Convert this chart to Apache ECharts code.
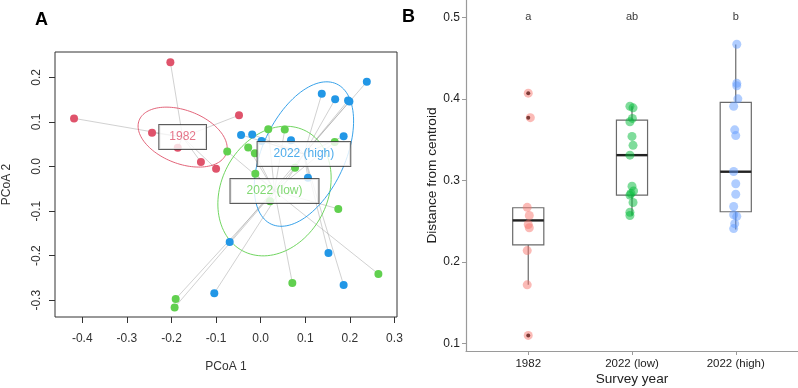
<!DOCTYPE html>
<html>
<head>
<meta charset="utf-8">
<script src="https://cdn.jsdelivr.net/npm/echarts@6/dist/echarts.min.js"></script>
<style>
html, body { margin: 0; padding: 0; background: #fff; }
#main { width: 798px; height: 388px; }
</style>
</head>
<body>
<div id="main"></div>
<script>
var groups = ['1982', '2022 (low)', '2022 (high)'];
var pcoaColors = ['#DF536B', '#61D04F', '#2297E6'];
var boxColors = ['#F8766D', '#00BA38', '#619CFF'];

// panel A: PCoA site scores for each group
var pcoa1982 = [[-0.4185, 0.108], [-0.2025, 0.234], [-0.2436, 0.076], [-0.0486, 0.115],
    [-0.186, 0.042], [-0.134, 0.010], [-0.100, -0.005]];
var pcoaLow = [[0.017, 0.0836], [0.054, 0.083], [-0.075, 0.034], [-0.028, 0.0425], [-0.013, 0.030],
    [0.166, 0.055], [0.077, -0.003], [-0.012, -0.0164], [0.021, -0.078], [0.174, -0.095],
    [0.264, -0.241], [0.071, -0.261], [-0.1906, -0.297], [-0.193, -0.316]];
var pcoaHigh = [[0.238, 0.190], [0.137, 0.163], [0.167, 0.151], [0.196, 0.148], [0.199, 0.146],
    [0.186, 0.068], [-0.044, 0.071], [-0.019, 0.072], [0.002, 0.057], [0.068, 0.059],
    [0.106, -0.025], [-0.0695, -0.169], [-0.104, -0.284], [0.152, -0.194], [0.186, -0.266]];
var centroids = [[-0.175, 0.066], [0.031, -0.055], [0.097, 0.028]];
// ellipse semi axes a, b and angle (degrees)
var ellipseAxes = [[0.1045, 0.0598, -21], [0.152, 0.119, 62], [0.1735, 0.0925, 65]];
var xTicksA = [-0.4, -0.3, -0.2, -0.1, 0, 0.1, 0.2, 0.3];
var yTicksA = [-0.3, -0.2, -0.1, 0, 0.1, 0.2];

// panel B: distance to centroid, [jittered x, distance]
var dist1982 = [[1.0, 0.407], [1.02, 0.377], [0.99, 0.267], [1.01, 0.257], [1.0, 0.246],
    [1.01, 0.242], [0.99, 0.214], [0.99, 0.172], [1.0, 0.110]];
var distLow = [[1.98, 0.391], [2.01, 0.389], [2.004, 0.376], [1.98, 0.372], [2.0, 0.354],
    [2.01, 0.343], [1.98, 0.331], [2.0, 0.293], [2.015, 0.287], [1.99, 0.284], [1.98, 0.282],
    [2.01, 0.273], [1.98, 0.261], [1.98, 0.257]];
var distHigh = [[3.01, 0.467], [3.01, 0.419], [3.01, 0.416], [3.02, 0.400], [2.98, 0.391],
    [2.99, 0.362], [3.0, 0.355], [2.98, 0.311], [3.0, 0.296], [3.0, 0.283], [2.98, 0.268],
    [2.98, 0.258], [3.01, 0.256], [2.99, 0.247], [2.98, 0.241]];
// min, q1, median, q3, max (whisker ends)
var boxStats = [[0.172, 0.221, 0.251, 0.2665, 0.2665],
    [0.257, 0.282, 0.331, 0.374, 0.391],
    [0.240, 0.2616, 0.3107, 0.3956, 0.4667]];
var outliers1982 = [0.407, 0.377, 0.110];
var letters = ['a', 'ab', 'b'];
var yTicksB = [0.1, 0.2, 0.3, 0.4, 0.5];

var labelPad = [[6, 10], [6, 16], [6, 16]];

var chart = echarts.init(document.getElementById('main'), null, {renderer: 'canvas'});

var pcoaSets = [pcoa1982, pcoaLow, pcoaHigh];
var distSets = [dist1982, distLow, distHigh];

var spiderData = [];
pcoaSets.forEach(function (pts, g) {
    pts.forEach(function (p) {
        spiderData.push([p[0], p[1], centroids[g][0], centroids[g][1], g]);
    });
});
var ellipseData = centroids.map(function (c, g) {
    return [c[0], c[1], ellipseAxes[g][0], ellipseAxes[g][1], ellipseAxes[g][2], g];
});

var series = [];

series.push({
    type: 'custom', xAxisIndex: 0, yAxisIndex: 0, z: 1, silent: true,
    data: spiderData,
    renderItem: function (params, api) {
        var p1 = api.coord([api.value(0), api.value(1)]);
        var p2 = api.coord([api.value(2), api.value(3)]);
        return {type: 'line', shape: {x1: p1[0], y1: p1[1], x2: p2[0], y2: p2[1]},
            style: {stroke: 'rgba(150,150,150,0.55)', lineWidth: 0.8}};
    }
});

series.push({
    type: 'custom', xAxisIndex: 0, yAxisIndex: 0, z: 2, silent: true,
    data: ellipseData,
    renderItem: function (params, api) {
        var cx = api.value(0), cy = api.value(1), a = api.value(2), b = api.value(3);
        var ang = api.value(4) * Math.PI / 180;
        var pts = [];
        for (var i = 0; i <= 120; i++) {
            var t = i / 120 * 2 * Math.PI;
            var ex = a * Math.cos(t), ey = b * Math.sin(t);
            pts.push(api.coord([cx + ex * Math.cos(ang) - ey * Math.sin(ang),
                cy + ex * Math.sin(ang) + ey * Math.cos(ang)]));
        }
        return {type: 'polyline', shape: {points: pts},
            style: {stroke: pcoaColors[api.value(5)], fill: null, lineWidth: 0.9}};
    }
});

pcoaSets.forEach(function (pts, g) {
    series.push({
        type: 'scatter', xAxisIndex: 0, yAxisIndex: 0, z: 3,
        symbolSize: 8, data: pts,
        itemStyle: {color: pcoaColors[g], opacity: 1}
    });
});

series.push({
    type: 'scatter', xAxisIndex: 0, yAxisIndex: 0, z: 5, symbolSize: 0,
    data: centroids.map(function (c, g) {
        return {value: c, label: {padding: labelPad[g], color: pcoaColors[g]}};
    }),
    label: {
        show: true, position: 'inside',
        formatter: function (p) { return groups[p.dataIndex]; },
        fontFamily: 'Liberation Sans', fontSize: 12,
        backgroundColor: '#fff', borderColor: '#333', borderWidth: 1
    }
});

// panel B boxes
series.push({
    type: 'custom', xAxisIndex: 1, yAxisIndex: 1, z: 2, silent: true,
    data: boxStats.map(function (s, i) { return [i + 1].concat(s); }),
    renderItem: function (params, api) {
        var x = api.value(0);
        var hw = api.size([0.3, 0])[0] / 2;
        var pMin = api.coord([x, api.value(1)]);
        var pQ1 = api.coord([x, api.value(2)]);
        var pMed = api.coord([x, api.value(3)]);
        var pQ3 = api.coord([x, api.value(4)]);
        var pMax = api.coord([x, api.value(5)]);
        var gray = '#6a6a6a';
        return {type: 'group', children: [
            {type: 'line', shape: {x1: pMin[0], y1: pMin[1], x2: pQ1[0], y2: pQ1[1]},
                style: {stroke: gray, lineWidth: 1.2}},
            {type: 'line', shape: {x1: pQ3[0], y1: pQ3[1], x2: pMax[0], y2: pMax[1]},
                style: {stroke: gray, lineWidth: 1.2}},
            {type: 'rect', shape: {x: pQ3[0] - hw, y: pQ3[1], width: hw * 2, height: pQ1[1] - pQ3[1]},
                style: {stroke: gray, fill: '#fff', lineWidth: 1.2}},
            {type: 'line', shape: {x1: pMed[0] - hw, y1: pMed[1], x2: pMed[0] + hw, y2: pMed[1]},
                style: {stroke: '#222', lineWidth: 2.4}}
        ]};
    }
});

series.push({
    type: 'scatter', xAxisIndex: 1, yAxisIndex: 1, z: 3, symbolSize: 4,
    data: outliers1982.map(function (v) { return [1, v]; }),
    itemStyle: {color: '#000', opacity: 1}
});

distSets.forEach(function (pts, g) {
    series.push({
        type: 'scatter', xAxisIndex: 1, yAxisIndex: 1, z: 4,
        symbolSize: 9, data: pts,
        itemStyle: {color: boxColors[g], opacity: 0.5}
    });
});

series.push({
    type: 'scatter', xAxisIndex: 1, yAxisIndex: 1, z: 5, symbolSize: 0,
    data: letters.map(function (l, i) { return [i + 1, 0.5]; }),
    label: {
        show: true, position: 'inside', color: '#000',
        fontFamily: 'Liberation Sans', fontSize: 11,
        formatter: function (p) { return letters[p.dataIndex]; }
    }
});

var fontA = {fontFamily: 'Liberation Sans', fontSize: 12, color: '#333'};

var option = {
    backgroundColor: '#fff',
    animation: false,
    grid: [
        {left: 55, top: 52, width: 342, height: 265, show: true, borderColor: '#333', borderWidth: 1,
            outerBoundsMode: 'none'},
        {left: 466, top: 0, width: 332, height: 351, outerBoundsMode: 'none'}
    ],
    xAxis: [
        {
            type: 'value', gridIndex: 0, min: -0.4612, max: 0.3057,
            axisLine: {show: false, onZero: false},
            axisTick: {show: true, length: 6, customValues: xTicksA, lineStyle: {color: '#333'}},
            axisLabel: Object.assign({margin: 16, customValues: xTicksA,
                formatter: function (v) { return v.toFixed(1); }}, fontA),
            splitLine: {show: false},
            name: 'PCoA 1', nameLocation: 'middle', nameGap: 44, nameMoveOverlap: false,
            nameTextStyle: fontA
        },
        {
            type: 'value', gridIndex: 1, min: 0.4, max: 3.6,
            axisLine: {show: true, onZero: false, lineStyle: {color: '#9a9a9a', width: 1.2}},
            axisTick: {show: true, length: 4, customValues: [1, 2, 3], lineStyle: {color: '#9a9a9a'}},
            axisLabel: {margin: 7, customValues: [1, 2, 3], fontFamily: 'Liberation Sans',
                fontSize: 11.5, color: '#222',
                formatter: function (v) { return groups[Math.round(v) - 1]; }},
            splitLine: {show: false},
            name: 'Survey year', nameLocation: 'middle', nameGap: 21, nameMoveOverlap: false,
            nameTextStyle: {fontFamily: 'Liberation Sans', fontSize: 13.6, color: '#222'}
        }
    ],
    yAxis: [
        {
            type: 'value', gridIndex: 0, min: -0.3375, max: 0.2569,
            axisLine: {show: false, onZero: false},
            axisTick: {show: true, length: 6, customValues: yTicksA, lineStyle: {color: '#333'}},
            axisLabel: Object.assign({margin: 12, rotate: 90, customValues: yTicksA,
                formatter: function (v) { return v.toFixed(1); }}, fontA),
            splitLine: {show: false},
            name: 'PCoA 2', nameLocation: 'middle', nameGap: 42, nameMoveOverlap: false,
            nameTextStyle: fontA
        },
        {
            type: 'value', gridIndex: 1, min: 0.0909, max: 0.5212,
            axisLine: {show: true, onZero: false, lineStyle: {color: '#9a9a9a', width: 1.2}},
            axisTick: {show: true, length: 4, customValues: yTicksB, lineStyle: {color: '#9a9a9a'}},
            axisLabel: {margin: 6, customValues: yTicksB, fontFamily: 'Liberation Sans',
                fontSize: 12, color: '#222',
                formatter: function (v) { return v.toFixed(1); }},
            splitLine: {show: false},
            name: 'Distance from centroid', nameLocation: 'middle', nameGap: 27, nameMoveOverlap: false,
            nameTextStyle: {fontFamily: 'Liberation Sans', fontSize: 13.6, color: '#222'}
        }
    ],
    graphic: [
        {type: 'text', left: 35, top: 11, style: {text: 'A', fontFamily: 'Liberation Sans',
            fontSize: 18, fontWeight: 'bold', fill: '#000'}},
        {type: 'text', left: 402, top: 8, style: {text: 'B', fontFamily: 'Liberation Sans',
            fontSize: 18, fontWeight: 'bold', fill: '#000'}}
    ],
    series: series
};

chart.setOption(option);
</script>
</body>
</html>
